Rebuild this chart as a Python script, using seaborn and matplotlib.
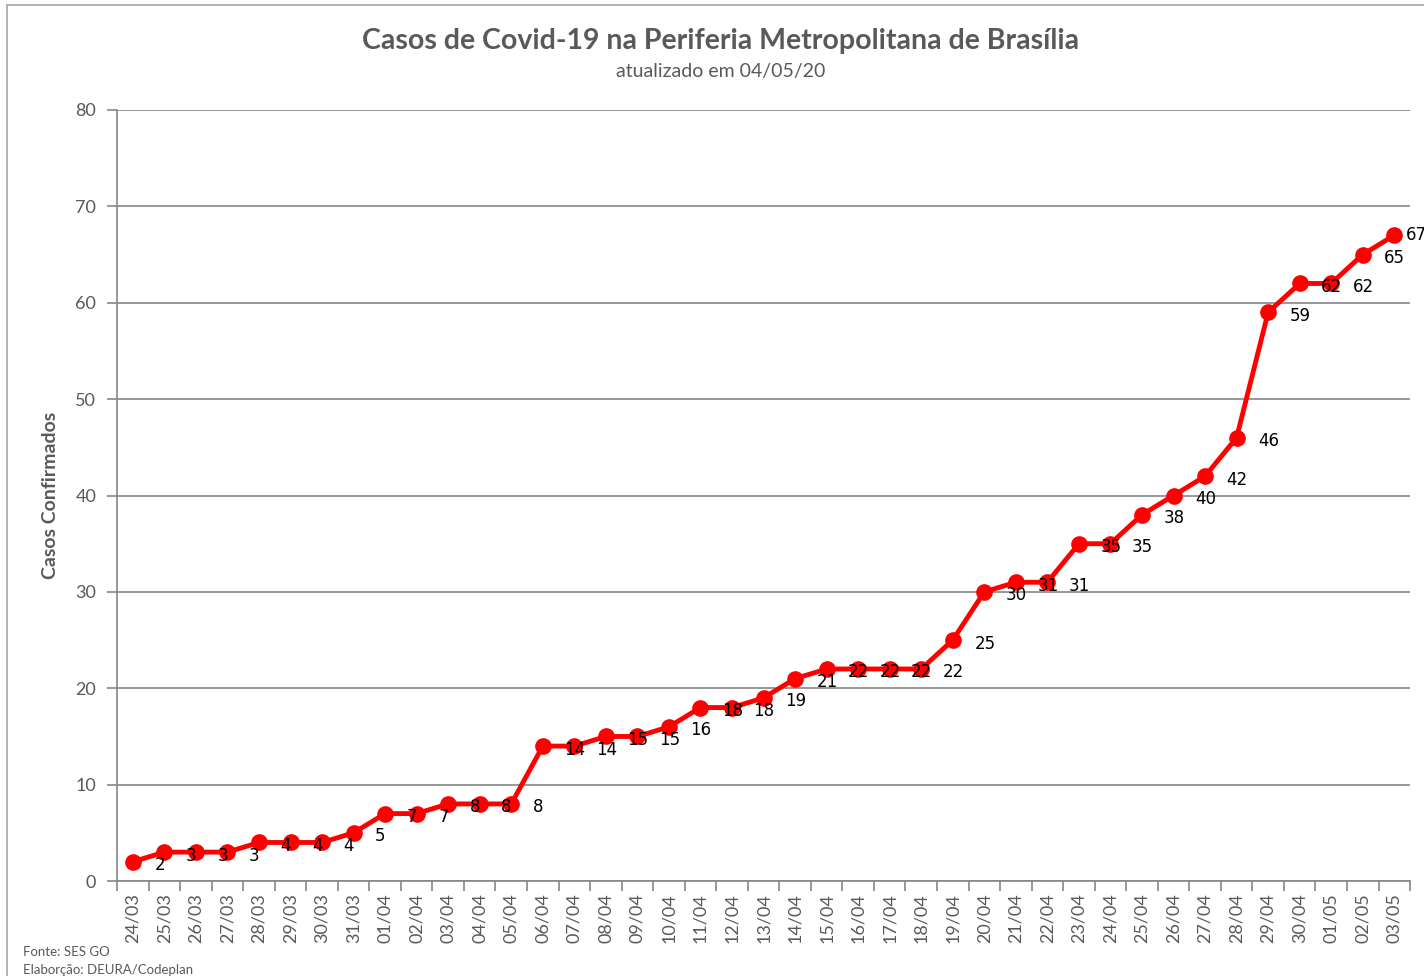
import pandas as pd
import matplotlib.pyplot as plt
import seaborn as sns
from matplotlib.patches import Rectangle

# data
dates = ['24/03', '25/03', '26/03', '27/03', '28/03', '29/03', '30/03', '31/03',
         '01/04', '02/04', '03/04', '04/04', '05/04', '06/04', '07/04', '08/04',
         '09/04', '10/04', '11/04', '12/04', '13/04', '14/04', '15/04', '16/04',
         '17/04', '18/04', '19/04', '20/04', '21/04', '22/04', '23/04', '24/04',
         '25/04', '26/04', '27/04', '28/04', '29/04', '30/04', '01/05', '02/05',
         '03/05']
casos = [2, 3, 3, 3, 4, 4, 4, 5, 7, 7, 8, 8, 8, 14, 14, 15, 15, 16, 18, 18, 19,
         21, 22, 22, 22, 22, 25, 30, 31, 31, 35, 35, 38, 40, 42, 46, 59, 62, 62,
         65, 67]
y_ticks = [0, 10, 20, 30, 40, 50, 60, 70, 80]

df = pd.DataFrame({'data': dates, 'casos': casos})
df['pos'] = range(len(df))

sns.set_style('white')
plt.rcParams['font.family'] = ['Lato', 'DejaVu Sans']

grey = '#595959'
fig = plt.figure(figsize=(14.24, 9.76), dpi=100)
ax = fig.add_axes([0.0822, 0.0973, 0.908, 0.790])

sns.lineplot(data=df, x='pos', y='casos', ax=ax, color='#ff0000', lw=3.5,
             marker='o', markersize=12, markeredgewidth=0, zorder=3)

# data labels, to the lower right of each point (last one squeezed at the edge)
n = len(df)
for i, (x, y) in enumerate(zip(df['pos'], df['casos'])):
    dx = 8 if i == n - 1 else 15.5
    dy = 0 if i == n - 1 else -2.5
    ax.annotate(str(y), (x, y), xytext=(dx, dy), textcoords='offset points',
                fontsize=12, color='black', family='DejaVu Sans',
                ha='left', va='center', zorder=4, annotation_clip=False)

ax.set_xlim(-0.5, len(dates) - 0.5)
ax.set_ylim(0, 80)
ax.set_yticks(y_ticks)
ax.set_yticklabels([str(t) for t in y_ticks], fontsize=13, color=grey)
ax.set_xticks(df['pos'])
ax.set_xticklabels(dates, rotation=90, fontsize=13, color=grey)
ax.tick_params(axis='x', length=0, pad=9)
ax.tick_params(axis='y', length=7, color='#868686', width=1.2, left=True, pad=8)

# category boundary tick marks below the x axis
ax.set_xticks([p - 0.5 for p in range(len(dates) + 1)], minor=True)
ax.tick_params(axis='x', which='minor', length=7, color='#868686', width=1.2,
               bottom=True, direction='out')

ax.grid(axis='y', color='#868686', lw=1.2)
ax.set_axisbelow(True)
for s in ['top', 'right']:
    ax.spines[s].set_visible(False)
for s in ['left', 'bottom']:
    ax.spines[s].set_color('#868686')
    ax.spines[s].set_linewidth(1.2)

ax.set_xlabel('')
ax.set_ylabel('Casos Confirmados', fontsize=14, color=grey, fontweight='bold',
              labelpad=12)

fig.text(0.506, 0.958, 'Casos de Covid-19 na Periferia Metropolitana de Brasília',
         ha='center', va='center', fontsize=20.5, fontweight='bold', color=grey)
fig.text(0.506, 0.927, 'atualizado em 04/05/20', ha='center', va='center',
         fontsize=14, color=grey)

fig.text(0.016, 0.020, 'Fonte: SES GO', fontsize=9.5, color=grey)
fig.text(0.016, 0.002, 'Elaborção: DEURA/Codeplan', fontsize=9.5, color=grey)

# outer chart border
fig.patches.append(Rectangle((0.005, -0.01), 1.1, 1.005, transform=fig.transFigure,
                             fill=False, edgecolor='#a6a6a6', lw=1.2))

fig.savefig('out.png', dpi=100)
